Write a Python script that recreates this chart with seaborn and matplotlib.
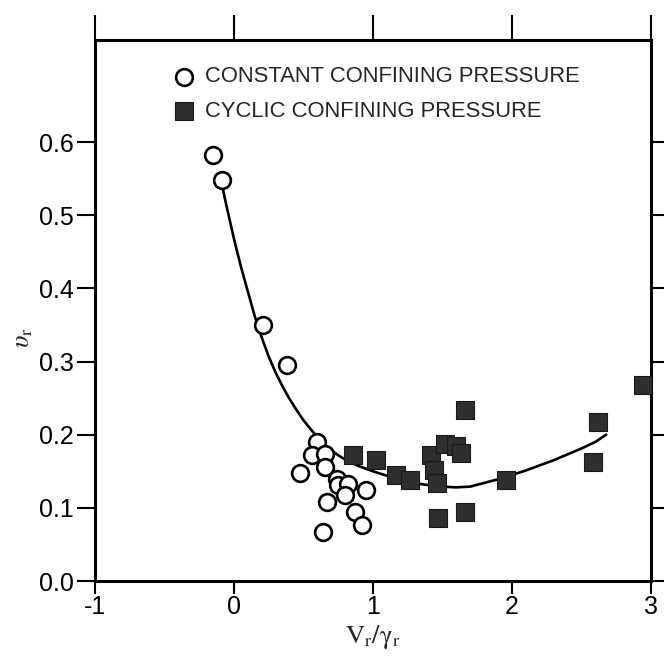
import matplotlib
matplotlib.use("Agg")
import matplotlib.pyplot as plt
import seaborn as sns
import pandas as pd

# Constant confining pressure tests
const_x = [-0.15, -0.086, 0.209, 0.381, 0.595, 0.559, 0.655, 0.475, 0.655, 0.739,
           0.75, 0.822, 0.799, 0.954, 0.667, 0.871, 0.919, 0.643]
const_y = [0.582, 0.548, 0.350, 0.295, 0.190, 0.172, 0.174, 0.147, 0.156, 0.140,
           0.131, 0.133, 0.117, 0.124, 0.108, 0.095, 0.076, 0.067]

# Cyclic confining pressure tests
cyc_x = [0.856, 1.02, 1.166, 1.266, 1.42, 1.44, 1.46, 1.518, 1.60, 1.638,
         1.662, 1.662, 1.47, 1.96, 2.585, 2.62, 2.945]
cyc_y = [0.172, 0.166, 0.145, 0.138, 0.172, 0.152, 0.134, 0.187, 0.184, 0.175,
         0.234, 0.095, 0.086, 0.138, 0.163, 0.218, 0.268]

# Fitted trend curve
fit_x = [-0.09, -0.05, 0.0, 0.05, 0.1, 0.15, 0.2, 0.25, 0.3, 0.35, 0.4, 0.45,
         0.5, 0.55, 0.6, 0.65, 0.7, 0.75, 0.8, 0.9, 1.0, 1.1, 1.2, 1.3, 1.4,
         1.5, 1.6, 1.7, 1.8, 1.9, 2.0, 2.1, 2.2, 2.3, 2.4, 2.5, 2.6, 2.68]
fit_y = [0.545, 0.510, 0.468, 0.430, 0.396, 0.362, 0.333, 0.307, 0.285, 0.266,
         0.249, 0.234, 0.220, 0.208, 0.197, 0.187, 0.179, 0.172, 0.166, 0.157,
         0.150, 0.144, 0.139, 0.134, 0.131, 0.129, 0.128, 0.129, 0.134, 0.139,
         0.145, 0.151, 0.158, 0.165, 0.173, 0.181, 0.190, 0.200]

labels = ["CONSTANT CONFINING PRESSURE", "CYCLIC CONFINING PRESSURE"]
x_ticks = [-1, 0, 1, 2, 3]
y_ticks = [0.0, 0.1, 0.2, 0.3, 0.4, 0.5, 0.6]

sns.set_theme(style="ticks")
plt.rcParams["font.family"] = ["Liberation Sans", "DejaVu Sans"]
plt.rcParams["mathtext.fontset"] = "stix"

points = pd.DataFrame({
    "x": const_x + cyc_x,
    "y": const_y + cyc_y,
    "series": [labels[0]] * len(const_x) + [labels[1]] * len(cyc_x),
})
curve = pd.DataFrame({"x": fit_x, "y": fit_y})

fig = plt.figure(figsize=(6.64, 6.61), dpi=100)
ax = fig.add_axes([0.143, 0.121, 0.837, 0.818])

sns.lineplot(data=curve, x="x", y="y", ax=ax, color="black", lw=1.9,
             sort=False, legend=False, zorder=2)

sns.scatterplot(data=points[points.series == labels[0]], x="x", y="y", ax=ax,
                marker="o", s=145, facecolor="white", edgecolor="black",
                linewidth=1.9, label=labels[0], zorder=3)
sns.scatterplot(data=points[points.series == labels[1]], x="x", y="y", ax=ax,
                marker="s", s=160, color="#2e2e2e", edgecolor="#1a1a1a",
                linewidth=0.8, label=labels[1], zorder=3)

ax.set_xlim(-1, 3)
ax.set_ylim(0, 0.739)
ax.set_xticks(x_ticks)
ax.set_xticklabels([str(t) for t in x_ticks])
ax.set_yticks(y_ticks)
ax.set_yticklabels([f"{t:.1f}" for t in y_ticks])

for side in ["left", "right", "top", "bottom"]:
    ax.spines[side].set_visible(True)
    ax.spines[side].set_linewidth(2.2)
    ax.spines[side].set_color("black")

ax.tick_params(axis="x", which="major", direction="out", length=9, width=1.5,
               top=True, bottom=True, labelsize=18, pad=1, colors="black")
ax.tick_params(axis="y", which="major", direction="out", length=13, width=1.5,
               left=True, right=True, labelsize=18, pad=2, colors="black")
# long ticks along the top edge, shorter ones below the plot
for tk in ax.xaxis.get_major_ticks():
    tk.tick1line.set_markersize(9)
    tk.tick2line.set_markersize(18)

ax.set_xlabel(r"$\mathrm{V_r/\gamma_r}$", fontsize=19)
ax.xaxis.set_label_coords(0.5, -0.077)
ax.set_ylabel(r"$\upsilon_\mathrm{r}$", fontsize=19)
ax.yaxis.set_label_coords(-0.108, 0.45)

leg = ax.legend(loc="upper left", bbox_to_anchor=(0.144, 0.952), frameon=False,
                fontsize=15.8, handlelength=0.8, handletextpad=0.56,
                labelspacing=0.62, borderpad=0, borderaxespad=0, markerscale=1.0)

fig.savefig("out.png", dpi=100, facecolor="white")
